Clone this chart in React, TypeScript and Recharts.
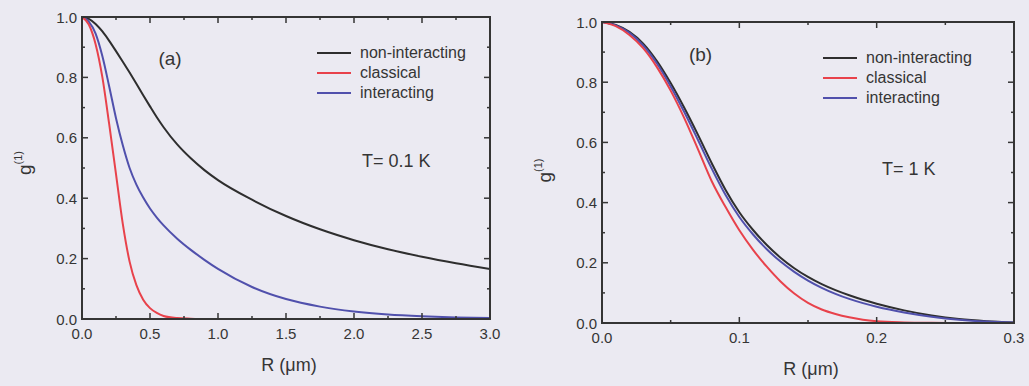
import React from 'react';
import { LineChart, Line, XAxis, YAxis, Legend, Label } from 'recharts';

// ---------- Panel (a): T = 0.1 K ----------
const rA = [0, 0.05, 0.1, 0.15, 0.2, 0.25, 0.3, 0.35, 0.4, 0.45, 0.5, 0.55, 0.6, 0.7, 0.8, 0.9, 1.0, 1.25, 1.5, 1.75, 2.0, 2.25, 2.5, 2.75, 3.0];
const nonInteractingA = [1.0, 0.994, 0.977, 0.952, 0.921, 0.887, 0.852, 0.816, 0.779, 0.741, 0.704, 0.668, 0.635, 0.578, 0.532, 0.493, 0.46, 0.395, 0.341, 0.297, 0.261, 0.231, 0.206, 0.1845, 0.1658];
const classicalA = [1.0, 0.975, 0.91, 0.8, 0.645, 0.48, 0.315, 0.19, 0.112, 0.064, 0.036, 0.02, 0.01, 0.003, 0.001, 0, 0, 0, 0, 0, 0, 0, 0, 0, 0];
const interactingA = [1.0, 0.985, 0.945, 0.87, 0.77, 0.665, 0.575, 0.5, 0.445, 0.402, 0.366, 0.336, 0.31, 0.266, 0.229, 0.196, 0.166, 0.106, 0.066, 0.041, 0.025, 0.015, 0.009, 0.005, 0.003];

// ---------- Panel (b): T = 1 K ----------
const rB = [0, 0.01, 0.02, 0.03, 0.04, 0.05, 0.06, 0.07, 0.08, 0.09, 0.1, 0.11, 0.12, 0.13, 0.14, 0.15, 0.16, 0.17, 0.18, 0.19, 0.2, 0.22, 0.24, 0.26, 0.28, 0.3];
const nonInteractingB = [1.0, 0.99, 0.967, 0.928, 0.87, 0.797, 0.714, 0.624, 0.53, 0.442, 0.368, 0.309, 0.259, 0.217, 0.182, 0.153, 0.129, 0.109, 0.092, 0.077, 0.064, 0.042, 0.025, 0.013, 0.006, 0.002];
const classicalB = [1.0, 0.986, 0.957, 0.913, 0.85, 0.772, 0.68, 0.576, 0.47, 0.385, 0.308, 0.243, 0.187, 0.138, 0.098, 0.067, 0.045, 0.03, 0.019, 0.011, 0.006, 0.002, 0.0005, 0, 0, 0];
const interactingB = [1.0, 0.989, 0.964, 0.922, 0.862, 0.786, 0.7, 0.607, 0.512, 0.425, 0.352, 0.294, 0.245, 0.204, 0.17, 0.141, 0.117, 0.097, 0.08, 0.066, 0.054, 0.035, 0.021, 0.011, 0.005, 0.002];

// ---------- Ticks ----------
const xTicksA = [0, 0.25, 0.5, 0.75, 1.0, 1.25, 1.5, 1.75, 2.0, 2.25, 2.5, 2.75, 3.0];
const xMajorA = [0, 0.5, 1.0, 1.5, 2.0, 2.5, 3.0];
const xTicksB = [0, 0.05, 0.1, 0.15, 0.2, 0.25, 0.3];
const xMajorB = [0, 0.1, 0.2, 0.3];
const yTicks = [0, 0.1, 0.2, 0.3, 0.4, 0.5, 0.6, 0.7, 0.8, 0.9, 1.0];
const yMajor = [0, 0.2, 0.4, 0.6, 0.8, 1.0];

const seriesNames = ['non-interacting', 'classical', 'interacting'];
const FONT = '"Liberation Sans", Arial, Helvetica, sans-serif';
const INK = '#353535';
const COLORS: Record<string, string> = {
  'non-interacting': '#2e2e2e',
  classical: '#e8424b',
  interacting: '#5050ac',
};

const isIn = (v: number, arr: number[]) => arr.some((m) => Math.abs(m - v) < 1e-9);

function makeTick(side: 'left' | 'right' | 'top' | 'bottom', majors: number[], labels: boolean) {
  return (props: any) => {
    const { x, y, payload } = props;
    const v = payload.value as number;
    const major = isIn(v, majors);
    const len = major ? 6 : 3;
    let line: any = null;
    let text: any = null;
    if (side === 'left') {
      line = <line x1={x} y1={y} x2={x + len} y2={y} stroke={INK} strokeWidth={1.5} />;
      if (labels && major)
        text = (
          <text x={x - 5} y={y + 5.5} textAnchor="end" fontSize={15} fill={INK} fontFamily={FONT}>
            {v.toFixed(1)}
          </text>
        );
    } else if (side === 'right') {
      line = <line x1={x} y1={y} x2={x - len} y2={y} stroke={INK} strokeWidth={1.5} />;
    } else if (side === 'top') {
      line = <line x1={x} y1={y} x2={x} y2={y + len} stroke={INK} strokeWidth={1.5} />;
    } else {
      line = <line x1={x} y1={y} x2={x} y2={y - len} stroke={INK} strokeWidth={1.5} />;
      if (labels && major)
        text = (
          <text x={x} y={y + 20} textAnchor="middle" fontSize={15} fill={INK} fontFamily={FONT}>
            {v.toFixed(1)}
          </text>
        );
    }
    return (
      <g>
        {line}
        {text}
      </g>
    );
  };
}

const legendContent = (props: any) => {
  const payload = [...(props.payload || [])].sort(
    (a: any, b: any) => seriesNames.indexOf(a.value) - seriesNames.indexOf(b.value)
  );
  return (
    <div style={{ fontFamily: FONT, fontSize: 16, color: INK }}>
      {payload.map((p: any) => (
        <div key={p.value} style={{ height: 20, display: 'flex', alignItems: 'center' }}>
          <svg width={34} height={20} style={{ display: 'block', marginRight: 9 }}>
            <line x1={0} y1={10} x2={34} y2={10} stroke={p.color} strokeWidth={2} />
          </svg>
          <span style={{ lineHeight: '20px', whiteSpace: 'nowrap' }}>{p.value}</span>
        </div>
      ))}
    </div>
  );
};

type PanelProps = {
  width: number;
  height: number;
  left: number;
  margin: { top: number; right: number; bottom: number; left: number };
  r: number[];
  non: number[];
  cls: number[];
  inter: number[];
  xTicks: number[];
  xMajor: number[];
  xMax: number;
  tag: string;
  tagPos: { x: number; y: number };
  temp: string;
  tempPos: { x: number; baseline: number };
  legendPos: { left: number; top: number };
  gShift: number;
};

function Panel(p: PanelProps) {
  const data = p.r.map((r, i) => ({ r, non: p.non[i], cls: p.cls[i], inter: p.inter[i] }));
  const axisLine = { stroke: INK, strokeWidth: 2, strokeLinecap: 'square' as const };
  // every axis takes 1px, so the plot box = margin + 1
  const m = {
    top: p.margin.top - 1,
    right: p.margin.right - 1,
    bottom: p.margin.bottom - 1,
    left: p.margin.left - 1,
  };
  return (
    <div style={{ position: 'absolute', left: p.left, top: 0, width: p.width, height: p.height }}>
      <LineChart width={p.width} height={p.height} data={data} margin={m}>
        <XAxis
          dataKey="r"
          type="number"
          domain={[0, p.xMax]}
          allowDataOverflow
          ticks={p.xTicks}
          interval={0}
          height={1}
          tickSize={0}
          tickMargin={0}
          tickLine={false}
          axisLine={axisLine}
          tick={makeTick('bottom', p.xMajor, true)}
        >
          <Label
            content={(lp: any) => {
              const vb = lp.viewBox;
              return (
                <text
                  x={vb.x + vb.width / 2 + 3}
                  y={vb.y + 52}
                  textAnchor="middle"
                  fontSize={18}
                  fill={INK}
                  fontFamily={FONT}
                >
                  R (μm)
                </text>
              );
            }}
          />
        </XAxis>
        <XAxis
          xAxisId="top"
          orientation="top"
          dataKey="r"
          type="number"
          domain={[0, p.xMax]}
          allowDataOverflow
          ticks={p.xTicks}
          interval={0}
          height={1}
          tickSize={0}
          tickMargin={0}
          tickLine={false}
          axisLine={axisLine}
          tick={makeTick('top', p.xMajor, false)}
        />
        <YAxis
          type="number"
          domain={[0, 1]}
          allowDataOverflow
          ticks={yTicks}
          interval={0}
          width={1}
          tickSize={0}
          tickMargin={0}
          tickLine={false}
          axisLine={axisLine}
          tick={makeTick('left', yMajor, true)}
        >
          <Label
            content={(lp: any) => {
              const vb = lp.viewBox;
              const bx = vb.x + vb.width - 51.5;
              const cy = vb.y + vb.height / 2 + p.gShift;
              return (
                <text
                  x={bx}
                  y={cy}
                  transform={`rotate(-90 ${bx} ${cy})`}
                  textAnchor="middle"
                  fontSize={19}
                  fill={INK}
                  fontFamily={FONT}
                >
                  <tspan>g</tspan>
                  <tspan dy={-9} fontSize={11}>
                    (1)
                  </tspan>
                </text>
              );
            }}
          />
        </YAxis>
        <YAxis
          yAxisId="right"
          orientation="right"
          type="number"
          domain={[0, 1]}
          allowDataOverflow
          ticks={yTicks}
          interval={0}
          width={1}
          tickSize={0}
          tickMargin={0}
          tickLine={false}
          axisLine={axisLine}
          tick={makeTick('right', yMajor, false)}
        />
        <Legend
          verticalAlign="middle"
          align="center"
          layout="vertical"
          wrapperStyle={{ left: p.legendPos.left, top: p.legendPos.top, width: 200, height: 60 }}
          content={legendContent}
        />
        <Line
          dataKey="non"
          name="non-interacting"
          type="monotone"
          stroke={COLORS['non-interacting']}
          strokeWidth={2}
          dot={false}
          activeDot={false}
          isAnimationActive={false}
        />
        <Line
          dataKey="inter"
          name="interacting"
          type="monotone"
          stroke={COLORS.interacting}
          strokeWidth={2}
          dot={false}
          activeDot={false}
          isAnimationActive={false}
        />
        <Line
          dataKey="cls"
          name="classical"
          type="monotone"
          stroke={COLORS.classical}
          strokeWidth={2}
          dot={false}
          activeDot={false}
          isAnimationActive={false}
        />
      </LineChart>
      <div
        style={{
          position: 'absolute',
          left: p.tagPos.x,
          top: p.tagPos.y,
          transform: 'translate(-50%, -50%)',
          fontFamily: FONT,
          fontSize: 19,
          lineHeight: 1,
          color: INK,
          whiteSpace: 'nowrap',
        }}
      >
        {p.tag}
      </div>
      <div
        style={{
          position: 'absolute',
          left: p.tempPos.x,
          top: p.tempPos.baseline - 15.2,
          fontFamily: FONT,
          fontSize: 18,
          lineHeight: 1,
          color: INK,
          whiteSpace: 'nowrap',
        }}
      >
        {p.temp}
      </div>
    </div>
  );
}

export default function App() {
  return (
    <div
      style={{
        position: 'absolute',
        left: 0,
        top: 0,
        width: 1029,
        height: 386,
        background: '#ebeaf2',
        overflow: 'hidden',
      }}
    >
      <Panel
        width={520}
        height={386}
        left={0}
        margin={{ top: 17, right: 30, bottom: 67, left: 82 }}
        r={rA}
        non={nonInteractingA}
        cls={classicalA}
        inter={interactingA}
        xTicks={xTicksA}
        xMajor={xMajorA}
        xMax={3}
        tag="(a)"
        tagPos={{ x: 170, y: 58 }}
        temp="T= 0.1 K"
        tempPos={{ x: 362, baseline: 167 }}
        legendPos={{ left: 317, top: 43 }}
        gShift={-5}
      />
      <Panel
        width={509}
        height={386}
        left={520}
        margin={{ top: 22, right: 15, bottom: 63, left: 82 }}
        r={rB}
        non={nonInteractingB}
        cls={classicalB}
        inter={interactingB}
        xTicks={xTicksB}
        xMajor={xMajorB}
        xMax={0.3}
        tag="(b)"
        tagPos={{ x: 180.5, y: 54 }}
        temp="T= 1 K"
        tempPos={{ x: 362, baseline: 175 }}
        legendPos={{ left: 303, top: 48 }}
        gShift={-2}
      />
    </div>
  );
}
